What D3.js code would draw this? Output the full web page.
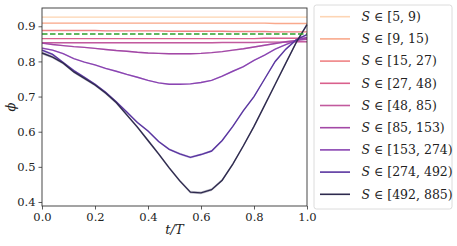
<!DOCTYPE html>
<html>
<head>
<meta charset="utf-8">
<script src="https://cdn.jsdelivr.net/npm/d3@7"></script>
<style>
  body { margin: 0; background: #fff; }
  text { font-family: "DejaVu Serif", "Liberation Serif", serif; fill: #222; }
</style>
</head>
<body>
<svg id="chart" width="457" height="246"></svg>
<script>
// ---- data ----
const tGrid = [0, 0.04, 0.08, 0.12, 0.16, 0.2, 0.24, 0.28, 0.32, 0.36, 0.4, 0.44, 0.48,
  0.52, 0.56, 0.6, 0.64, 0.68, 0.72, 0.76, 0.8, 0.84, 0.88, 0.92, 0.96, 1.0];

const binLabels = ["[5, 9)", "[9, 15)", "[15, 27)", "[27, 48)", "[48, 85)",
  "[85, 153)", "[153, 274)", "[274, 492)", "[492, 885)"];

const binColors = ["#fdd5b4", "#f9a98c", "#ef8385", "#d9608c", "#c25a9e",
  "#a348a6", "#8a45b2", "#5a36a0", "#2e2a4e"];

const s5_9 = [0.926,0.926,0.926,0.926,0.926,0.926,0.926,0.926,0.926,0.926,0.926,0.926,0.926,
  0.926,0.926,0.926,0.926,0.926,0.926,0.926,0.926,0.926,0.926,0.926,0.926,0.926];
const s9_15 = [0.909,0.909,0.909,0.909,0.909,0.909,0.909,0.909,0.909,0.909,0.909,0.909,0.909,
  0.909,0.909,0.909,0.909,0.909,0.909,0.909,0.909,0.909,0.908,0.908,0.908,0.908];
const s15_27 = [0.888,0.888,0.888,0.888,0.888,0.888,0.887,0.887,0.887,0.887,0.887,0.887,0.886,
  0.886,0.886,0.886,0.886,0.886,0.885,0.885,0.885,0.885,0.884,0.884,0.884,0.884];
const s27_48 = [0.865,0.865,0.865,0.865,0.865,0.865,0.865,0.865,0.865,0.865,0.865,0.865,0.865,
  0.865,0.865,0.865,0.865,0.865,0.865,0.865,0.865,0.866,0.866,0.866,0.866,0.866];
const s48_85 = [0.853,0.853,0.853,0.853,0.853,0.853,0.853,0.853,0.853,0.853,0.853,0.853,0.853,
  0.853,0.853,0.853,0.853,0.854,0.854,0.854,0.854,0.855,0.855,0.855,0.856,0.856];
const s85_153 = [0.852,0.848,0.845,0.842,0.840,0.837,0.834,0.831,0.829,0.826,0.824,0.823,0.822,
  0.822,0.822,0.823,0.825,0.828,0.832,0.836,0.841,0.846,0.851,0.856,0.860,0.863];
const s153_274 = [0.838,0.832,0.822,0.808,0.798,0.790,0.780,0.772,0.763,0.755,0.746,0.739,0.735,
  0.735,0.736,0.740,0.746,0.758,0.772,0.785,0.803,0.818,0.835,0.848,0.860,0.868];
const s274_492 = [0.832,0.820,0.797,0.774,0.755,0.735,0.712,0.685,0.656,0.626,0.602,0.572,0.550,
  0.537,0.527,0.535,0.545,0.575,0.615,0.660,0.700,0.750,0.800,0.835,0.862,0.876];
const s492_885 = [0.824,0.812,0.795,0.770,0.752,0.733,0.710,0.683,0.648,0.613,0.575,0.537,0.497,
  0.460,0.428,0.426,0.435,0.462,0.508,0.560,0.615,0.675,0.735,0.795,0.855,0.905];

const baseline = 0.878; // green dashed reference

const xTicks = [0, 0.2, 0.4, 0.6, 0.8, 1.0];
const yTicks = [0.4, 0.5, 0.6, 0.7, 0.8, 0.9];

const allSeries = [s5_9, s9_15, s15_27, s27_48, s48_85, s85_153, s153_274, s274_492, s492_885];
const bandHalf = [0.001, 0.001, 0.001, 0.001, 0.0015, 0.002, 0.002, 0.003, 0.004];

// ---- layout ----
const svg = d3.select("#chart");
const margin = { left: 42, right: 150, top: 8, bottom: 40 };
const W = 457, H = 246;

const x = d3.scaleLinear().domain([0, 1]).range([margin.left, W - margin.right]);
const y = d3.scaleLinear().domain([0.3886, 0.952]).range([H - margin.bottom, margin.top]);

const line = d3.line().x((d, i) => x(tGrid[i])).y(d => y(d));

// bands + lines
const plotG = svg.append("g");
allSeries.forEach((s, k) => {
  const area = d3.area()
    .x((d, i) => x(tGrid[i]))
    .y0(d => y(d - bandHalf[k]))
    .y1(d => y(d + bandHalf[k]));
  plotG.append("path")
    .attr("d", area(s))
    .attr("fill", binColors[k])
    .attr("opacity", 0.3);
});
allSeries.forEach((s, k) => {
  plotG.append("path")
    .attr("d", line(s))
    .attr("fill", "none")
    .attr("stroke", binColors[k])
    .attr("stroke-width", 1.4);
});

plotG.append("line")
  .attr("x1", x(0)).attr("x2", x(1))
  .attr("y1", y(baseline)).attr("y2", y(baseline))
  .attr("stroke", "#2ca02c")
  .attr("stroke-width", 1.5)
  .attr("stroke-dasharray", "5.5,2.5");

// frame
svg.append("rect")
  .attr("x", x(0)).attr("y", margin.top)
  .attr("width", x(1) - x(0)).attr("height", H - margin.bottom - margin.top)
  .attr("fill", "none").attr("stroke", "#333").attr("stroke-width", 0.9);

// axes
const xAxis = svg.append("g")
  .attr("transform", `translate(0,${H - margin.bottom})`)
  .call(d3.axisBottom(x).tickValues(xTicks).tickFormat(d3.format(".1f")).tickSize(3.5).tickPadding(3));
const yAxis = svg.append("g")
  .attr("transform", `translate(${margin.left},0)`)
  .call(d3.axisLeft(y).tickValues(yTicks).tickFormat(d3.format(".1f")).tickSize(3.5).tickPadding(3));

[xAxis, yAxis].forEach(a => {
  a.select(".domain").remove();
  a.selectAll(".tick line").attr("stroke", "#333").attr("stroke-width", 0.8);
  a.selectAll(".tick text").attr("font-size", 11.5).attr("font-family", "DejaVu Serif, serif").attr("fill", "#333");
});

// axis labels
svg.append("text")
  .attr("x", (x(0) + x(1)) / 2).attr("y", 234)
  .attr("text-anchor", "middle")
  .attr("font-size", 13)
  .attr("font-style", "italic")
  .text("t/T");

svg.append("text")
  .attr("transform", `translate(15,${(y(0.952) + y(0.3886)) / 2}) rotate(-90)`)
  .attr("text-anchor", "middle")
  .attr("font-size", 13)
  .attr("font-style", "italic")
  .text("ϕ");

// legend
const legend = svg.append("g").attr("transform", "translate(314,5)");
legend.append("rect")
  .attr("width", 138).attr("height", 204)
  .attr("rx", 2.5)
  .attr("fill", "#fff")
  .attr("stroke", "#d8d8d8")
  .attr("stroke-width", 0.9);

const items = legend.selectAll("g.item")
  .data(binLabels)
  .enter().append("g")
  .attr("class", "item")
  .attr("transform", (d, i) => `translate(0,${11.7 + i * 22.2})`);

items.append("line")
  .attr("x1", 6).attr("x2", 36)
  .attr("stroke", (d, i) => binColors[i])
  .attr("stroke-width", 1.6);

const lt = items.append("text")
  .attr("x", 47.5).attr("dy", "0.35em")
  .attr("font-size", 12.5);
lt.append("tspan").attr("font-style", "italic").text("S");
lt.append("tspan").text(d => " ∈ " + d);
</script>
</body>
</html>
